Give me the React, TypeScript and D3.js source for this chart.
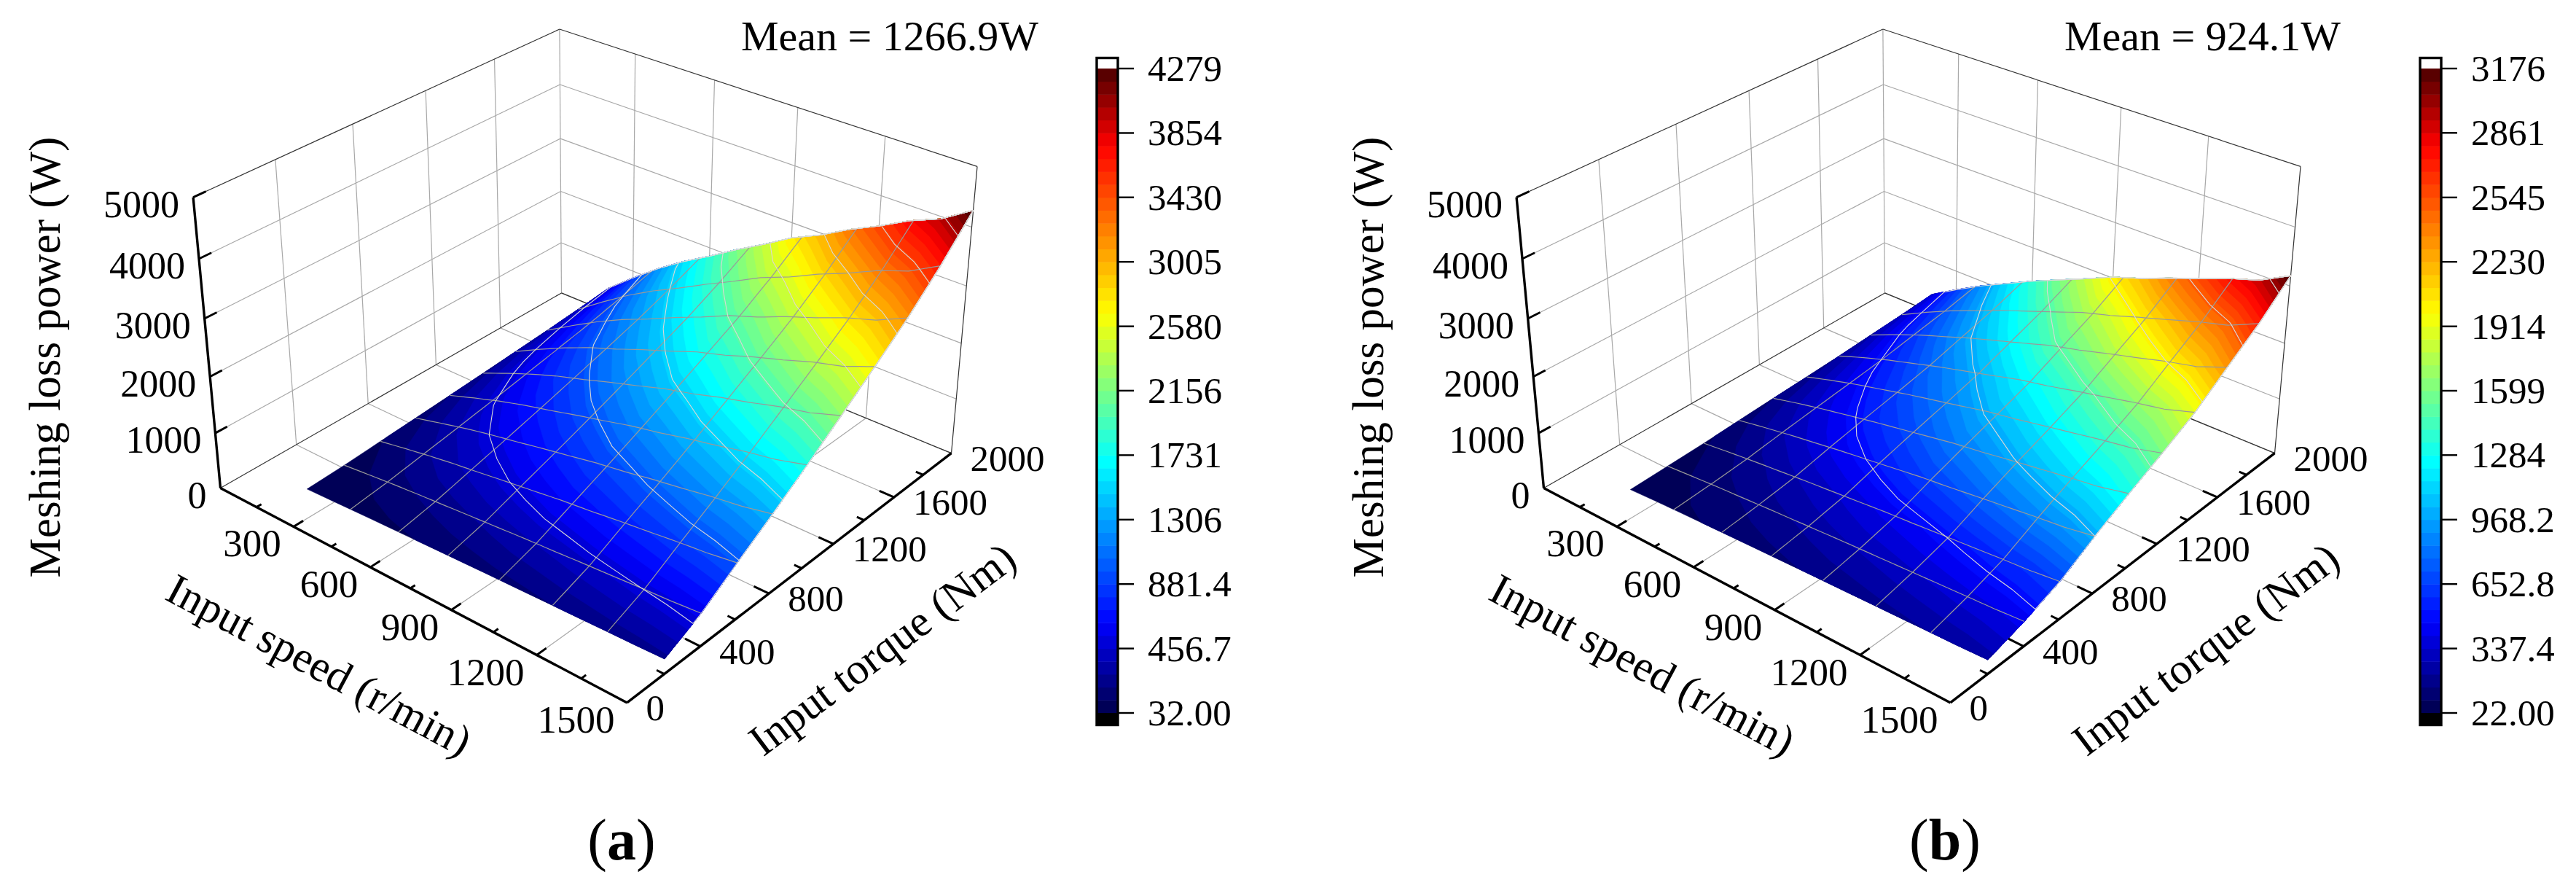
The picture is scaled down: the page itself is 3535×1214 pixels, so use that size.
import React from "react";
import * as d3 from "d3";

// surface grid of both panels
const speeds = [200, 300, 400, 500, 600, 700, 800, 900, 1000, 1100, 1200, 1300, 1400, 1500];
const torques = [200, 400, 600, 800, 1000, 1200, 1400, 1600, 1800, 2000];

// meshing loss (W), one row per torque
const lossA = [
  [32, 53, 75, 95, 112, 131, 148, 166, 180, 197, 211, 228, 241, 260],
  [64, 116, 165, 208, 246, 286, 324, 364, 394, 431, 463, 499, 527, 570],
  [110, 199, 283, 358, 422, 492, 557, 625, 678, 742, 797, 858, 907, 980],
  [155, 280, 399, 504, 595, 693, 784, 880, 955, 1045, 1122, 1209, 1277, 1380],
  [202, 365, 520, 657, 776, 904, 1022, 1148, 1246, 1363, 1463, 1577, 1665, 1800],
  [251, 455, 647, 818, 965, 1124, 1272, 1429, 1550, 1696, 1821, 1962, 2072, 2240],
  [301, 546, 777, 982, 1159, 1350, 1528, 1716, 1861, 2036, 2187, 2356, 2488, 2690],
  [353, 639, 910, 1150, 1358, 1581, 1789, 2010, 2180, 2385, 2561, 2759, 2914, 3150],
  [412, 747, 1064, 1343, 1586, 1847, 2090, 2348, 2547, 2786, 2992, 3224, 3404, 3680],
  [478, 870, 1236, 1560, 1846, 2150, 2430, 2730, 2960, 3240, 3480, 3750, 3960, 4279],
];
const lossB = [
  [22, 49, 70, 88, 106, 123, 139, 156, 169, 184, 197, 212, 224, 245],
  [48, 87, 123, 154, 186, 215, 244, 273, 296, 322, 347, 372, 394, 430],
  [74, 133, 188, 237, 286, 330, 374, 420, 454, 494, 532, 572, 605, 660],
  [112, 202, 285, 359, 433, 500, 567, 636, 688, 749, 806, 866, 916, 1000],
  [147, 265, 373, 470, 567, 655, 743, 833, 901, 981, 1056, 1134, 1200, 1310],
  [179, 323, 456, 574, 693, 800, 907, 1018, 1101, 1198, 1290, 1386, 1466, 1600],
  [214, 386, 544, 686, 827, 955, 1083, 1215, 1314, 1431, 1539, 1654, 1750, 1910],
  [259, 467, 658, 829, 1000, 1155, 1310, 1469, 1589, 1730, 1862, 2000, 2116, 2310],
  [302, 545, 770, 969, 1169, 1350, 1531, 1717, 1858, 2022, 2176, 2338, 2473, 2700],
  [355, 640, 905, 1140, 1375, 1590, 1800, 2020, 2185, 2380, 2560, 2750, 2910, 3176],
];

const legendA = ["32.00", "456.7", "881.4", "1306", "1731", "2156", "2580", "3005", "3430", "3854", "4279"];
const legendB = ["22.00", "337.4", "652.8", "968.2", "1284", "1599", "1914", "2230", "2545", "2861", "3176"];

const speedTicks = [300, 600, 900, 1200, 1500];
const speedMinor = [150, 450, 750, 1050, 1350];
const torqueTicks = [0, 400, 800, 1200, 1600, 2000];
const torqueMinor = [200, 600, 1000, 1400, 1800];
const powerTicks = [0, 1000, 2000, 3000, 4000, 5000];
const meshSpeeds = [375, 562.5, 750, 937.5, 1125, 1312.5];
const meshTorques = [400, 600, 800, 1000, 1200, 1400, 1600, 1800];
const isoLevels = [500, 1000, 1500, 2000, 2500, 3000, 3500, 4000];

const BANDS = 50;
const FONT = "'Liberation Serif', serif";

const jet = d3
  .scaleLinear<string>()
  .domain([0, 0.14, 0.39, 0.62, 0.88, 1])
  .range(["#00004a", "#0000ff", "#00ffff", "#ffff00", "#ff0000", "#4a0000"]);

// where the corners of the plot box fall on the page: [speed, torque, power, x, y]
const boxCorners = [
  [0, 2000, 0, 770, 402],
  [0, 0, 0, 303, 670],
  [1500, 0, 0, 860, 964],
  [1500, 2000, 0, 1306, 621],
  [0, 0, 5000, 265, 270],
  [0, 2000, 5000, 768, 40],
  [1500, 2000, 5000, 1341, 229],
];

// least squares fit of the camera matrix to the box corners
function fitCamera() {
  const A: number[][] = [];
  const b: number[] = [];
  boxCorners.forEach(([n, t, p, x, y]) => {
    const u = n / 1500, v = t / 2000, w = p / 5000, X = x / 1000, Y = y / 1000;
    A.push([u, v, w, 1, 0, 0, 0, 0, -X * u, -X * v, -X * w]);
    b.push(X);
    A.push([0, 0, 0, 0, u, v, w, 1, -Y * u, -Y * v, -Y * w]);
    b.push(Y);
  });
  const m = 11;
  const N = d3.range(m).map((i) => [
    ...d3.range(m).map((j) => d3.sum(A, (r) => r[i] * r[j])),
    d3.sum(A, (r, k) => r[i] * b[k]),
  ]);
  for (let c = 0; c < m; c++) {
    let piv = c;
    for (let r = c + 1; r < m; r++) if (Math.abs(N[r][c]) > Math.abs(N[piv][c])) piv = r;
    [N[c], N[piv]] = [N[piv], N[c]];
    for (let r = 0; r < m; r++) {
      if (r === c) continue;
      const f = N[r][c] / N[c][c];
      for (let k = c; k <= m; k++) N[r][k] -= f * N[c][k];
    }
  }
  return N.map((r, i) => r[m] / r[i]);
}
const cam = fitCamera();

function project(n: number, t: number, p: number): [number, number] {
  const u = n / 1500, v = t / 2000, w = p / 5000;
  const d = cam[8] * u + cam[9] * v + cam[10] * w + 1;
  return [
    (1000 * (cam[0] * u + cam[1] * v + cam[2] * w + cam[3])) / d,
    (1000 * (cam[4] * u + cam[5] * v + cam[6] * w + cam[7])) / d,
  ];
}

const lineOf = d3.line<[number, number]>();
const seg = (a: number[], b: number[]) =>
  lineOf([project(a[0], a[1], a[2]), project(b[0], b[1], b[2])]) as string;

const speedIdx = d3.scaleLinear().domain([0, speeds.length - 1]).range([speeds[0], speeds[speeds.length - 1]]);
const torqueIdx = d3.scaleLinear().domain([0, torques.length - 1]).range([torques[0], torques[torques.length - 1]]);

function Panel({ dx, loss, legend, mean, tag }: { dx: number; loss: number[][]; legend: string[]; mean: string; tag: string }) {
  const flat = loss.flat();
  const nx = speeds.length;
  const ny = torques.length;
  const min = +legend[0];
  const max = +legend[legend.length - 1];

  // height on the surface at fractional grid position
  const heightAt = (ix: number, iy: number) => {
    const x0 = Math.min(Math.floor(ix), nx - 2), y0 = Math.min(Math.floor(iy), ny - 2);
    const fx = ix - x0, fy = iy - y0;
    return (
      (loss[y0][x0] * (1 - fx) + loss[y0][x0 + 1] * fx) * (1 - fy) +
      (loss[y0 + 1][x0] * (1 - fx) + loss[y0 + 1][x0 + 1] * fx) * fy
    );
  };
  const gridPoint = (ix: number, iy: number) => {
    const cx = Math.max(0, Math.min(nx - 1, ix));
    const cy = Math.max(0, Math.min(ny - 1, iy));
    return project(speedIdx(cx), torqueIdx(cy), heightAt(cx, cy));
  };
  const path = d3.geoPath(
    d3.geoTransform({
      point(x: number, y: number) {
        const [px, py] = gridPoint(x - 0.5, y - 0.5);
        (this as any).stream.point(px, py);
      },
    })
  );

  const levels = d3.range(BANDS).map((i) => min + ((max - min) * i) / BANDS);
  const bands = d3.contours().size([nx, ny]).thresholds(levels)(flat);
  const isos = d3.contours().size([nx, ny]).thresholds(isoLevels.filter((l) => l < max))(flat);

  const legendY = d3.scaleLinear().domain([min, max]).range([978, 94]);

  const meshSpeedPaths = meshSpeeds.map((n) => {
    const ix = speedIdx.invert(n);
    return lineOf(d3.range(0, ny - 1 + 0.01, 0.25).map((iy) => gridPoint(ix, iy))) as string;
  });
  const meshTorquePaths = meshTorques.map((t) => {
    const iy = torqueIdx.invert(t);
    return lineOf(d3.range(0, nx - 1 + 0.01, 0.25).map((ix) => gridPoint(ix, iy))) as string;
  });

  const grid = { stroke: "#a8a8a8", strokeWidth: 1.2, fill: "none" };
  const edge = { stroke: "#333", strokeWidth: 1.2, fill: "none" };
  const axis = { stroke: "#000", strokeWidth: 3.4, fill: "none" };
  const tick = { stroke: "#000", strokeWidth: 3, fill: "none" };

  return (
    <g transform={`translate(${dx},0)`} fontFamily={FONT} fill="#000">
      {/* walls and floor */}
      {powerTicks.slice(1, -1).map((p) => (
        <g key={p}>
          <path d={seg([0, 0, p], [0, 2000, p])} {...grid} />
          <path d={seg([0, 2000, p], [1500, 2000, p])} {...grid} />
        </g>
      ))}
      {torqueTicks.slice(1).map((t) => (
        <g key={t}>
          <path d={seg([0, t, 0], [0, t, 5000])} {...grid} />
          <path d={seg([0, t, 0], [1500, t, 0])} {...grid} />
        </g>
      ))}
      {speedTicks.slice(0, -1).map((n) => (
        <g key={n}>
          <path d={seg([n, 2000, 0], [n, 2000, 5000])} {...grid} />
          <path d={seg([n, 0, 0], [n, 2000, 0])} {...grid} />
        </g>
      ))}
      <path d={seg([0, 0, 0], [0, 2000, 0])} {...edge} />
      <path d={seg([0, 2000, 0], [1500, 2000, 0])} {...edge} />
      <path d={seg([0, 0, 5000], [0, 2000, 5000])} {...edge} />
      <path d={seg([0, 2000, 5000], [1500, 2000, 5000])} {...edge} />
      <path d={seg([1500, 2000, 0], [1500, 2000, 5000])} {...edge} />

      {/* surface bands */}
      {bands.map((b, i) => (
        <path key={i} d={path(b) as string} fill={jet((i + 0.5) / BANDS)} stroke={jet((i + 0.5) / BANDS)} strokeWidth={0.6} />
      ))}
      {meshSpeedPaths.map((d, i) => (
        <path key={i} d={d} fill="none" stroke="#999" strokeWidth={1.2} />
      ))}
      {meshTorquePaths.map((d, i) => (
        <path key={i} d={d} fill="none" stroke="#999" strokeWidth={1.2} />
      ))}
      {isos.map((c, i) => (
        <path key={i} d={path(c) as string} fill="none" stroke="#d8d8d8" strokeWidth={1.1} />
      ))}

      {/* axes */}
      <path d={seg([0, 0, 0], [0, 0, 5000])} {...axis} />
      <path d={seg([0, 0, 0], [1500, 0, 0])} {...axis} />
      <path d={seg([1500, 0, 0], [1500, 2000, 0])} {...axis} />

      {powerTicks.map((p) => {
        const [x, y] = project(0, 0, p);
        return (
          <g key={p}>
            {p > 0 && <path d={seg([0, 0, p], [0, 60, p])} {...tick} />}
            <text x={x - 19} y={y + 27} fontSize={52} textAnchor="end">{p}</text>
          </g>
        );
      })}
      {speedTicks.map((n) => {
        const [x, y] = project(n, 0, 0);
        return (
          <g key={n}>
            {n < 1500 && <path d={seg([n, 0, 0], [n, 50, 0])} {...tick} />}
            <text x={x - 17} y={y + 41} fontSize={53} textAnchor="end">{n}</text>
          </g>
        );
      })}
      {speedMinor.map((n) => (
        <path key={n} d={seg([n, 0, 0], [n, 25, 0])} {...tick} />
      ))}
      {torqueTicks.map((t) => {
        const [x, y] = project(1500, t, 0);
        return (
          <g key={t}>
            {t > 0 && t < 2000 && <path d={seg([1500, t, 0], [1450, t, 0])} {...tick} />}
            <text x={x + 26} y={y + 24} fontSize={51}>{t}</text>
          </g>
        );
      })}
      {torqueMinor.map((t) => (
        <path key={t} d={seg([1500, t, 0], [1475, t, 0])} {...tick} />
      ))}

      {/* titles */}
      <text transform="translate(82,490) rotate(-90)" fontSize={61} textAnchor="middle">Meshing loss power (W)</text>
      <text transform="translate(437,914) rotate(28)" dy="0.3em" fontSize={60} textAnchor="middle">Input speed (r/min)</text>
      <text transform="translate(1212,892) rotate(-37)" dy="0.3em" fontSize={60} textAnchor="middle">Input torque (Nm)</text>
      <text x={1017} y={69} fontSize={58}>{mean}</text>
      <text x={853} y={1179} fontSize={80} textAnchor="middle">
        (<tspan fontWeight="bold">{tag}</tspan>)
      </text>

      {/* colour bar */}
      <rect x={1505} y={79} width={29} height={15} fill="#fff" />
      {d3.range(BANDS).map((i) => (
        <rect
          key={i}
          x={1505}
          y={legendY(levels[i]) - (884 / BANDS)}
          width={29}
          height={884 / BANDS + 0.5}
          fill={jet((i + 0.5) / BANDS)}
        />
      ))}
      <rect x={1505} y={978} width={29} height={17} fill="#000" />
      <rect x={1505} y={79.5} width={29} height={915} fill="none" stroke="#000" strokeWidth={3.4} />
      {legend.map((l) => (
        <g key={l}>
          <line x1={1534} x2={1556} y1={legendY(+l)} y2={legendY(+l)} stroke="#000" strokeWidth={2.4} />
          <text x={1575} y={legendY(+l) + 17} fontSize={51}>{l}</text>
        </g>
      ))}
    </g>
  );
}

export default function App() {
  return (
    <svg width={3535} height={1214} style={{ position: "absolute", left: 0, top: 0, background: "#fff" }}>
      <Panel dx={0} loss={lossA} legend={legendA} mean="Mean = 1266.9W" tag="a" />
      <Panel dx={1816} loss={lossB} legend={legendB} mean="Mean = 924.1W" tag="b" />
    </svg>
  );
}
